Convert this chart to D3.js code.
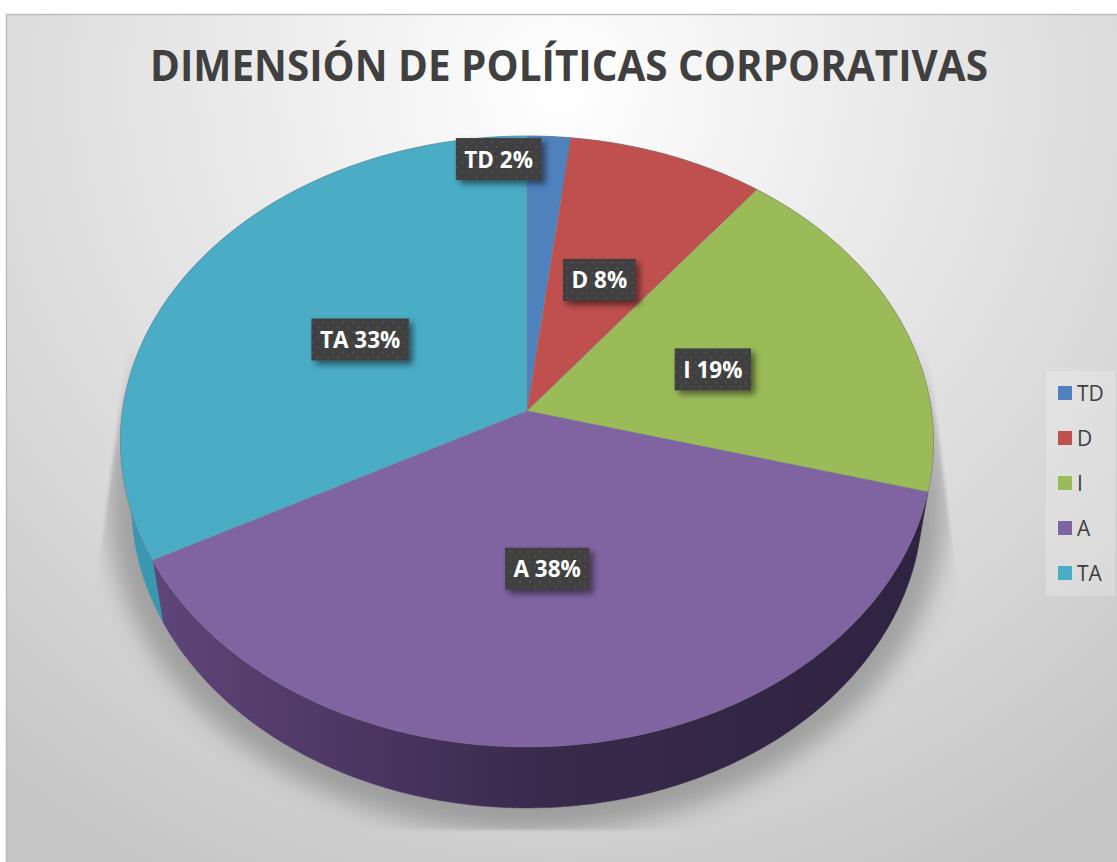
<!DOCTYPE html>
<html><head><meta charset="utf-8">
<script src="https://cdn.jsdelivr.net/npm/d3@7"></script>
<style>html,body{margin:0;padding:0;background:#fff;overflow:hidden}svg{display:block}</style>
</head><body><svg id="c" width="1117" height="862"></svg>
<script>
const titleText = "DIMENSIÓN DE POLÍTICAS CORPORATIVAS";
const categories = ["TD", "D", "I", "A", "TA"];
const sliceShares = [1.9, 8.6, 18.7, 38.0, 32.8];
const printedPercents = [2, 8, 19, 38, 33];
const sliceColors = ["#4f81bd", "#c0504d", "#9bbb59", "#8064a2", "#4bacc6"];
const wallColors = ["#3b6594", "#96403d", "#7a9446", ["#5e4579", "#46325c", "#382a4b", "#2e2340"], "#3a97b0"];
const labelNudges = [[-42, -81], [-15, 28], [-40, 15], [-9, -34], [35, 19]];

const W = 1117, H = 862;
const cx = 527, cy = 411, R = 404.5, A = 302.4, K = 0.0998, depth = 61, shrink = 0.973;
const font = "'Open Sans', 'Noto Sans', sans-serif";
const svg = d3.select("#c");
const defs = svg.append("defs");

function project(theta, r = 1) {
  const u = r * Math.sin(theta), v = -r * Math.cos(theta), w = 1 - K * v;
  return [cx + R * u / w, cy + A * v / w];
}
const lower = ([x, y]) => [cx + (x - cx) * shrink, y + depth];
const sampleArc = (a0, a1) => {
  const n = Math.max(2, Math.ceil((a1 - a0) * 90));
  return d3.range(n + 1).map(i => project(a0 + (a1 - a0) * i / n));
};
const line = d3.line();
const full = sampleArc(0, 2 * Math.PI);

// background
const bg = defs.append("radialGradient").attr("id", "bg").attr("gradientUnits", "userSpaceOnUse")
  .attr("cx", 560).attr("cy", 90).attr("r", 880);
[[0, "#ffffff"], [0.35, "#ebebeb"], [0.7, "#d8d8d8"], [1, "#c6c6c6"]].forEach(s =>
  bg.append("stop").attr("offset", s[0]).attr("stop-color", s[1]));
svg.append("rect").attr("x", 6).attr("y", 14).attr("width", W - 6).attr("height", H - 14).attr("fill", "url(#bg)");
svg.append("path").attr("d", `M6.5 ${H}V14.5H${W}`).attr("fill", "none").attr("stroke", "#bdbdbd").attr("stroke-width", 1.5);

// ground shadow
defs.append("filter").attr("id", "blur").attr("x", "-20%").attr("y", "-20%").attr("width", "140%").attr("height", "140%")
  .append("feGaussianBlur").attr("stdDeviation", 12);
defs.append("filter").attr("id", "clipBlur").attr("x", "-5%").attr("y", "-5%").attr("width", "110%").attr("height", "110%")
  .append("feGaussianBlur").attr("stdDeviation", 1.5);
const mask = defs.append("mask").attr("id", "shadowMask").attr("maskUnits", "userSpaceOnUse")
  .attr("x", 0).attr("y", 0).attr("width", W).attr("height", H);
mask.append("path").attr("fill", "#fff").attr("filter", "url(#clipBlur)")
  .attr("d", "M128 345L93 610L120 830H930L960 610L928 345Z");
svg.append("g").attr("mask", "url(#shadowMask)")
  .append("path")
  .attr("d", line(full.map(lower)) + "Z")
  .attr("fill", "#3a3a3a").attr("stroke", "#3a3a3a").attr("stroke-width", 48).attr("opacity", 0.34)
  .attr("filter", "url(#blur)");

// slices
const arcs = d3.pie().sort(null).value(d => d)(sliceShares);
const walls = svg.append("g"), tops = svg.append("g");
arcs.forEach((a, i) => {
  const rim = sampleArc(a.startAngle, a.endAngle);
  const poly = rim.concat(rim.slice().reverse().map(lower));
  let fill = wallColors[i];
  if (Array.isArray(fill)) {
    const g = defs.append("linearGradient").attr("id", "wall" + i).attr("gradientUnits", "userSpaceOnUse")
      .attr("x1", 160).attr("x2", 930).attr("y1", 0).attr("y2", 0);
    [0, 0.33, 0.5, 1].forEach((o, j) => g.append("stop").attr("offset", o).attr("stop-color", fill[j]));
    fill = `url(#wall${i})`;
  }
  walls.append("path").attr("d", line(poly) + "Z").attr("fill", fill).attr("stroke", fill).attr("stroke-width", 0.5);
});
arcs.forEach((a, i) => {
  const rim = sampleArc(a.startAngle, a.endAngle);
  tops.append("path").attr("d", line([[cx, cy], ...rim]) + "Z")
    .attr("fill", sliceColors[i]).attr("stroke", "#7d7d8a").attr("stroke-opacity", 0.55).attr("stroke-width", 0.8)
    .attr("stroke-linejoin", "round");
});

// title
svg.append("text").attr("x", 569).attr("y", 81).attr("text-anchor", "middle")
  .attr("font-family", font).attr("font-weight", 700).attr("font-size", 43)
  .attr("fill", "#404040").attr("textLength", 838).attr("lengthAdjust", "spacingAndGlyphs")
  .text(titleText);

// data labels
const pat = defs.append("pattern").attr("id", "dots").attr("patternUnits", "userSpaceOnUse").attr("width", 10).attr("height", 10);
pat.append("rect").attr("width", 10).attr("height", 10).attr("fill", "#3f3f3f");
pat.append("rect").attr("x", 2).attr("y", 2).attr("width", 2).attr("height", 2).attr("fill", "#525252");
pat.append("rect").attr("x", 7).attr("y", 7).attr("width", 2).attr("height", 2).attr("fill", "#525252");
const ds = defs.append("filter").attr("id", "boxShadow").attr("x", "-20%").attr("y", "-30%").attr("width", "150%").attr("height", "170%");
ds.append("feDropShadow").attr("dx", 4).attr("dy", 4).attr("stdDeviation", 3).attr("flood-color", "#000").attr("flood-opacity", 0.5);

const labels = svg.append("g");
arcs.forEach((a, i) => {
  const [px, py] = project((a.startAngle + a.endAngle) / 2, 0.6);
  const x = px + labelNudges[i][0], y = py + labelNudges[i][1];
  const g = labels.append("g").attr("transform", `translate(${x},${y})`);
  const r = g.append("rect").attr("y", -21).attr("height", 42).attr("fill", "url(#dots)").attr("filter", "url(#boxShadow)");
  const t = g.append("text").attr("text-anchor", "middle").attr("y", 8.5)
    .attr("font-family", font).attr("font-weight", 700).attr("font-size", 22.5).attr("fill", "#fff")
    .text(`${categories[i]} ${printedPercents[i]}%`);
  const w = t.node().getComputedTextLength() + 17;
  r.attr("x", -w / 2).attr("width", w);
});

// legend
svg.append("rect").attr("x", 1046).attr("y", 371).attr("width", 69).attr("height", 225).attr("fill", "#fff").attr("opacity", 0.22);
const ly = d3.scalePoint().domain(categories).range([393, 573]);
const lg = svg.append("g").selectAll("g").data(categories).join("g")
  .attr("transform", d => `translate(1058,${ly(d)})`);
lg.append("rect").attr("y", -7).attr("width", 14).attr("height", 14).attr("fill", (d, i) => sliceColors[i]);
lg.append("text").attr("x", 19).attr("y", 8).attr("font-family", font).attr("font-size", 21).attr("fill", "#404040").text(d => d);
</script></body></html>
